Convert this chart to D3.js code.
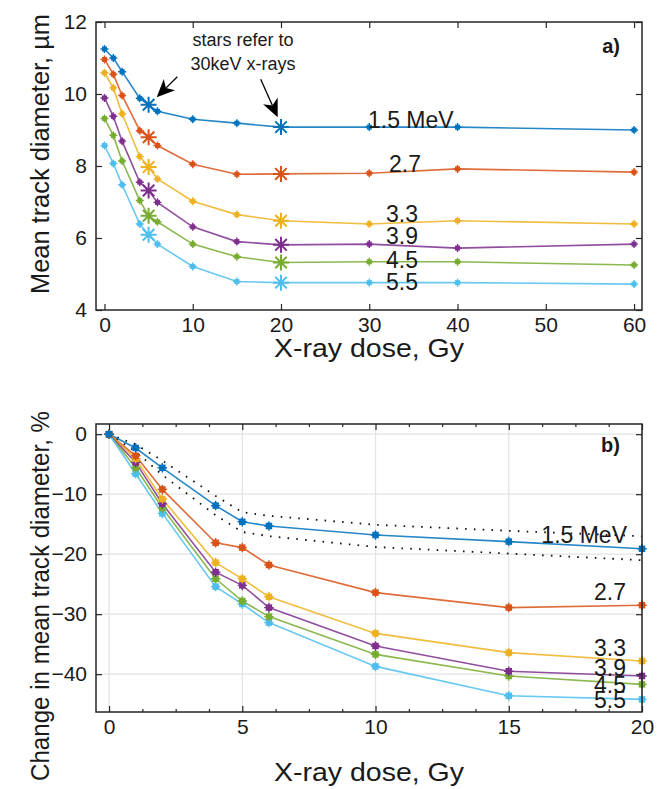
<!DOCTYPE html>
<html><head><meta charset="utf-8">
<script src="https://cdn.jsdelivr.net/npm/d3@7"></script>
<style>
body{margin:0;background:#fff}
text{font-family:"Liberation Sans",Arial,sans-serif;fill:#1a1a1a}
</style>
</head><body>
<svg id="c" width="668" height="789"></svg>
<script>
// ---------- data ----------
const energies = ["1.5 MeV","2.7","3.3","3.9","4.5","5.5"];
const colors = ["#0072BD","#D95319","#EDB120","#7E2F8E","#77AC30","#4DBEEE"];

// panel a) mean track diameter (µm)
const doseTop = [0,1,2,4,5,6,10,15,20,30,40,60];
const starDoses = [5,20]; // 30 keV x-ray points
const diam15 = [11.25,11.0,10.62,9.88,9.7,9.52,9.3,9.19,9.08,9.08,9.08,9.0];
const diam27 = [10.96,10.55,9.96,8.98,8.8,8.57,8.05,7.77,7.78,7.8,7.92,7.83];
const diam33 = [10.59,10.17,9.45,8.26,7.97,7.64,7.02,6.65,6.48,6.39,6.48,6.39];
const diam39 = [9.89,9.38,8.69,7.55,7.32,6.99,6.31,5.9,5.81,5.83,5.72,5.83];
const diam45 = [9.32,8.85,8.14,7.04,6.62,6.45,5.83,5.48,5.32,5.34,5.34,5.25];
const diam55 = [8.57,8.07,7.48,6.39,6.09,5.83,5.21,4.79,4.76,4.76,4.76,4.72];
const xTicksTop = [0,10,20,30,40,50,60];
const yTicksTop = [4,6,8,10,12];

// panel b) change in mean track diameter (%)
const doseBot = [0,1,2,4,5,6,10,15,20];
const chg15 = [0,-2.3,-5.6,-11.9,-14.6,-15.3,-16.8,-17.9,-19.1];
const chg27 = [0,-3.6,-9.2,-18.1,-18.9,-21.8,-26.4,-28.9,-28.5];
const chg33 = [0,-4.1,-10.8,-21.4,-24.1,-27.1,-33.2,-36.4,-37.8];
const chg39 = [0,-4.7,-11.6,-23.0,-25.2,-28.9,-35.3,-39.5,-40.3];
const chg45 = [0,-5.6,-12.3,-24.1,-27.8,-30.4,-36.7,-40.3,-41.7];
const chg55 = [0,-6.6,-13.2,-25.4,-28.3,-31.4,-38.7,-43.6,-44.2];
const band15Upper = [0,-1.7,-4.4,-10.3,-13.0,-13.6,-15.1,-16.1,-17.0];
const band15Lower = [0,-2.9,-6.8,-13.5,-16.3,-17.0,-18.8,-19.9,-21.0];
const xTicksBot = [0,5,10,15,20];
const xMinorBot = [1.25,2.5,3.75,6.25,7.5,8.75,11.25,12.5,13.75,16.25,17.5,18.75];
const yTicksBot = [0,-10,-20,-30,-40];

const diamSeries = [diam15,diam27,diam33,diam39,diam45,diam55];
const chgSeries = [chg15,chg27,chg33,chg39,chg45,chg55];

// ---------- layout ----------
const svg = d3.select("#c");
const L = 96, R = 642;
const A = {top:22, bottom:310};
const B = {top:424, bottom:712};
const axisCol = "#262626";

const xa = d3.scaleLinear().domain([-0.96,60.9]).range([L,R]);
const ya = d3.scaleLinear().domain([4,12]).range([A.bottom,A.top]);
const xb = d3.scaleLinear().domain([-0.49,20]).range([L,R]);
const yb = d3.scaleLinear().domain([-46.3,1.7]).range([B.bottom,B.top]);

function frame(g, x, y, box, xt, yt, xminor){
  const ax = (a, t) => a.tickValues(t).tickSize(-6).tickSizeOuter(0);
  g.append("g").attr("transform",`translate(0,${box.bottom})`)
    .call(ax(d3.axisBottom(x), xt).tickPadding(7).tickFormat(d3.format("d")));
  g.append("g").attr("transform",`translate(0,${box.top})`)
    .call(ax(d3.axisTop(x), xt).tickFormat(""));
  g.append("g").attr("transform",`translate(${L},0)`)
    .call(ax(d3.axisLeft(y), yt).tickPadding(9).tickFormat(d3.format("d")));
  g.append("g").attr("transform",`translate(${R},0)`)
    .call(ax(d3.axisRight(y), yt).tickFormat(""));
  if (xminor){
    g.append("g").attr("transform",`translate(0,${box.bottom})`)
      .call(d3.axisBottom(x).tickValues(xminor).tickSize(-3).tickSizeOuter(0).tickFormat(""));
    g.append("g").attr("transform",`translate(0,${box.top})`)
      .call(d3.axisTop(x).tickValues(xminor).tickSize(-3).tickSizeOuter(0).tickFormat(""));
  }
  g.selectAll(".domain").remove();
  g.selectAll(".tick line").attr("stroke",axisCol).attr("stroke-width",1.2);
  g.selectAll(".tick text").style("font-size","21px").attr("fill","#1a1a1a")
    .style("font-family","'Liberation Sans',Arial,sans-serif");
  g.append("rect").attr("x",L).attr("y",box.top).attr("width",R-L).attr("height",box.bottom-box.top)
    .attr("fill","none").attr("stroke",axisCol).attr("stroke-width",1.5);
}

function squareMarker(g, cx, cy, s, col){
  g.append("rect").attr("x",cx-s/2).attr("y",cy-s/2).attr("width",s).attr("height",s).attr("fill",col);
  g.append("path").attr("d",`M${cx-s/2-1.5},${cy}H${cx+s/2+1.5}M${cx},${cy-s/2-1.5}V${cy+s/2+1.5}`)
    .attr("stroke",col).attr("stroke-width",1.4);
}
function starMarker(g, cx, cy, r, col){
  const d = r*0.72;
  g.append("path").attr("d",
    `M${cx-r},${cy}H${cx+r}M${cx},${cy-r}V${cy+r}M${cx-d},${cy-d}L${cx+d},${cy+d}M${cx-d},${cy+d}L${cx+d},${cy-d}`)
    .attr("stroke",col).attr("stroke-width",2).attr("fill","none");
  g.append("circle").attr("cx",cx).attr("cy",cy).attr("r",2.5).attr("fill",col);
}

// ---------- panel a ----------
const ga = svg.append("g");
const lineA = d3.line().x(d=>xa(d[0])).y(d=>ya(d[1]));
diamSeries.forEach((vals,i)=>{
  const pts = doseTop.map((d,j)=>[d,vals[j]]);
  ga.append("path").attr("d",lineA(pts)).attr("fill","none")
    .attr("stroke",colors[i]).attr("stroke-width",1.6).attr("stroke-opacity",0.85);
  pts.forEach(p=>{
    if (starDoses.includes(p[0])) starMarker(ga, xa(p[0]), ya(p[1]), 8, colors[i]);
    else squareMarker(ga, xa(p[0]), ya(p[1]), 5, colors[i]);
  });
});
frame(ga, xa, ya, A, xTicksTop, yTicksTop, null);

// labels panel a
const labA = [[368,128],[389,171.5],[386,221.5],[386,243.5],[386,267.5],[386,289.5]];
energies.forEach((t,i)=>{
  ga.append("text").attr("x",labA[i][0]).attr("y",labA[i][1]).text(t).style("font-size","23px");
});
ga.append("text").attr("x",620).attr("y",53).attr("text-anchor","end").text("a)")
  .style("font-size","20px").style("font-weight","bold");

// annotation
ga.append("text").attr("x",243).attr("y",46).attr("text-anchor","middle").style("font-size","18px").text("stars refer to");
ga.append("text").attr("x",243).attr("y",70).attr("text-anchor","middle").style("font-size","18px").text("30keV x-rays");
function arrow(g, x1,y1,x2,y2){
  const dx=x2-x1, dy=y2-y1, len=Math.hypot(dx,dy), ux=dx/len, uy=dy/len, px=-uy, py=ux;
  const hl=18, hw=8, notch=5;
  const bx=x2-ux*hl, by=y2-uy*hl;
  g.append("line").attr("x1",x1).attr("y1",y1).attr("x2",bx+ux*notch).attr("y2",by+uy*notch)
    .attr("stroke","#000").attr("stroke-width",1.3);
  g.append("path").attr("d",`M${x2},${y2}L${bx+px*hw},${by+py*hw}L${bx+ux*notch},${by+uy*notch}L${bx-px*hw},${by-py*hw}Z`)
    .attr("fill","#000");
}
arrow(ga,177.3,76.7,156.7,97.3);
arrow(ga,260.7,79.3,277.7,117.3);

// axis titles a
svg.append("text").attr("x",369).attr("y",357).attr("text-anchor","middle")
  .style("font-size","25px").attr("textLength",190).attr("lengthAdjust","spacingAndGlyphs").text("X-ray dose, Gy");
svg.append("text").attr("transform","translate(49,154) rotate(-90)").attr("text-anchor","middle")
  .style("font-size","25px").attr("textLength",280).attr("lengthAdjust","spacingAndGlyphs").text("Mean track diameter, µm");

// ---------- panel b ----------
const gb = svg.append("g");
// grid
gb.selectAll(".gx").data(xTicksBot).enter().append("line")
  .attr("x1",d=>xb(d)).attr("x2",d=>xb(d)).attr("y1",B.top).attr("y2",B.bottom)
  .attr("stroke","#e3e3e3").attr("stroke-width",1.2);
gb.selectAll(".gy").data(yTicksBot).enter().append("line")
  .attr("x1",L).attr("x2",R).attr("y1",d=>yb(d)).attr("y2",d=>yb(d))
  .attr("stroke","#e3e3e3").attr("stroke-width",1.2);

const lineB = d3.line().x(d=>xb(d[0])).y(d=>yb(d[1]));
[band15Upper, band15Lower].forEach(vals=>{
  gb.append("path").attr("d",lineB(doseBot.map((d,j)=>[d,vals[j]]))).attr("fill","none")
    .attr("stroke","#111").attr("stroke-width",1.8).attr("stroke-dasharray","1.6 7.2");
});
chgSeries.forEach((vals,i)=>{
  const pts = doseBot.map((d,j)=>[d,vals[j]]);
  gb.append("path").attr("d",lineB(pts)).attr("fill","none")
    .attr("stroke",colors[i]).attr("stroke-width",1.6).attr("stroke-opacity",0.85);
});
chgSeries.slice().reverse().forEach((vals,k)=>{
  const i = chgSeries.length-1-k;
  doseBot.forEach((d,j)=>squareMarker(gb, xb(d), yb(vals[j]), 6.5, colors[i]));
});
frame(gb, xb, yb, B, xTicksBot, yTicksBot, xMinorBot);

const labB = [[627,542.7],[626,600],[626,656],[626,676],[626,693],[626,708]];
energies.forEach((t,i)=>{
  gb.append("text").attr("x",labB[i][0]).attr("y",labB[i][1]).attr("text-anchor","end")
    .text(t).style("font-size","23px");
});
gb.append("text").attr("x",620).attr("y",452).attr("text-anchor","end").text("b)")
  .style("font-size","20px").style("font-weight","bold");

svg.append("text").attr("x",369).attr("y",781).attr("text-anchor","middle")
  .style("font-size","25px").attr("textLength",190).attr("lengthAdjust","spacingAndGlyphs").text("X-ray dose, Gy");
svg.append("text").attr("transform","translate(49,596) rotate(-90)").attr("text-anchor","middle")
  .style("font-size","25px").attr("textLength",370).attr("lengthAdjust","spacingAndGlyphs").text("Change in mean track diameter, %");
</script>
</body></html>
